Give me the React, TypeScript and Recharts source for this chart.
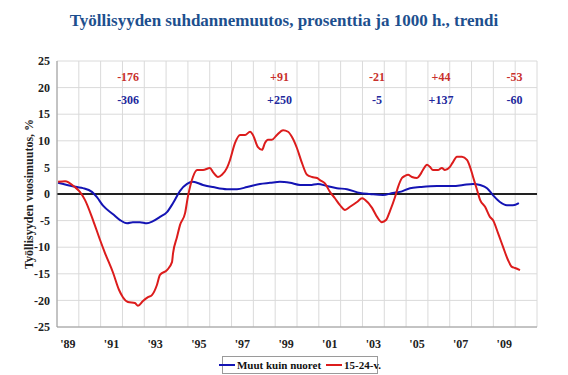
import React from "react";
import {
  LineChart,
  Line,
  XAxis,
  YAxis,
  CartesianGrid,
  ReferenceLine,
  ReferenceDot,
} from "recharts";

// decimal years
const youthYears = [
  1989.05, 1989.37, 1989.82, 1990.05, 1990.28, 1990.65, 1990.97, 1991.2, 1991.57, 1991.84,
  1992.02, 1992.25, 1992.57, 1992.71, 1992.94, 1993.17, 1993.35, 1993.58, 1993.72, 1994.04,
  1994.27, 1994.32, 1994.5, 1994.64, 1994.87, 1995.0, 1995.23, 1995.42, 1995.69, 1996.01,
  1996.15, 1996.38, 1996.56, 1996.79, 1996.93, 1997.16, 1997.39, 1997.62, 1997.85, 1997.98,
  1998.21, 1998.4, 1998.53, 1998.67, 1998.85, 1999.08, 1999.36, 1999.59, 1999.77, 2000.0,
  2000.23, 2000.46, 2000.69, 2000.92, 2001.05, 2001.28, 2001.51, 2001.74, 2001.97, 2002.2,
  2002.43, 2002.75, 2002.98, 2003.12, 2003.44, 2003.67, 2003.89, 2004.08, 2004.26, 2004.49,
  2004.63, 2004.81, 2004.95, 2005.09, 2005.27, 2005.5, 2005.64, 2005.77, 2005.96, 2006.09,
  2006.23, 2006.46, 2006.64, 2006.78, 2007.01, 2007.15, 2007.33, 2007.56, 2007.79, 2007.93,
  2008.07, 2008.25, 2008.39, 2008.62, 2008.84, 2008.98, 2009.21, 2009.44, 2009.67, 2009.85,
  2009.99, 2010.22,
];
const youthValues = [
  2.3, 2.4, 1.3, 0.4, -1.1, -4.9, -8.6, -11.1, -14.8, -18.0,
  -19.4, -20.3, -20.5, -21.0, -20.1, -19.4, -19.0, -17.1, -15.2, -14.3,
  -12.8, -11.1, -8.1, -5.8, -3.6, -0.5, 3.2, 4.5, 4.5, 4.9,
  4.1, 3.2, 3.6, 4.9, 6.4, 9.6, 11.1, 11.1, 11.7, 11.1,
  8.8, 8.3, 9.6, 10.2, 10.2, 11.1, 12.0, 11.7, 10.7, 8.6,
  5.8, 3.6, 3.2, 3.0, 2.6, 2.0, 0.4, -0.8, -2.1, -3.0,
  -2.4, -1.5, -0.8, -1.1, -2.6, -4.3, -5.3, -4.9, -3.2, -0.6,
  1.3, 3.0, 3.4, 3.6, 3.2, 3.0, 3.6, 4.5, 5.5, 5.1,
  4.5, 4.5, 4.9, 4.5, 5.1, 6.0, 7.0, 7.0, 6.4, 5.1,
  3.2, 0.8, -1.1, -2.4, -4.3, -4.9, -7.3, -9.9, -12.4, -13.7,
  -13.9, -14.3,
];

const otherYears = [
  1989.05, 1989.46, 1989.92, 1990.19, 1990.6, 1990.83, 1991.11, 1991.57, 1991.89, 1992.21,
  1992.48, 1992.8, 1993.12, 1993.4, 1993.72, 1994.04, 1994.32, 1994.64, 1994.96, 1995.23,
  1995.69, 1996.15, 1996.79, 1997.25, 1997.71, 1998.3, 1998.76, 1999.22, 1999.68, 2000.14,
  2000.59, 2000.96, 2001.37, 2001.83, 2002.29, 2002.89, 2003.34, 2003.94, 2004.4, 2004.72,
  2005.18, 2005.64, 2006.42, 2007.15, 2007.61, 2008.07, 2008.39, 2008.71, 2008.98, 2009.3,
  2009.62, 2009.9, 2010.17,
];
const otherValues = [
  2.1, 1.7, 1.3, 1.1, 0.4, -0.6, -2.2, -3.8, -4.9, -5.5,
  -5.3, -5.3, -5.5, -5.1, -4.3, -3.4, -1.7, 0.6, 1.9, 2.3,
  1.7, 1.3, 0.9, 0.9, 1.3, 1.9, 2.1, 2.3, 2.1, 1.7,
  1.7, 1.9, 1.5, 1.1, 0.9, 0.2, 0.0, -0.2, 0.2, 0.4,
  1.1, 1.3, 1.5, 1.5, 1.7, 1.9, 1.7, 1.1, -0.2, -1.5,
  -2.1, -2.1, -1.7,
];

const youthData = youthYears.map((t, i) => ({ t, v: youthValues[i] }));
const otherData = otherYears.map((t, i) => ({ t, v: otherValues[i] }));

const yTicks = [-25, -20, -15, -10, -5, 0, 5, 10, 15, 20, 25];
const gridYears = Array.from({ length: 23 }, (_, i) => 1989 + i);
const labelYears = [1989.5, 1991.5, 1993.5, 1995.5, 1997.5, 1999.5, 2001.5, 2003.5, 2005.5, 2007.5, 2009.5];

// change in thousands per period, top row = youth, second row = others
const noteYears = [1992.26, 1999.2, 2003.67, 2006.6, 2009.97];
const youthNotes = ["-176", "+91", "-21", "+44", "-53"];
const otherNotes = ["-306", "+250", "-5", "+137", "-60"];

const RED = "#dc1c1c";
const BLUE = "#1414b4";
const serif = "'Liberation Serif', 'Times New Roman', serif";

const fmtYear = (v: number) => "'" + String(Math.floor(v)).slice(2);

export default function App() {
  return (
    <div style={{ position: "absolute", left: 0, top: 0, width: 568, height: 375, background: "#fff", fontFamily: serif }}>
      <div
        style={{
          position: "absolute",
          top: 11,
          width: 568,
          textAlign: "center",
          fontSize: 17,
          fontWeight: "bold",
          color: "#1d4f8e",
        }}
      >
        Työllisyyden suhdannemuutos, prosenttia ja 1000 h., trendi
      </div>
      <LineChart width={568} height={375} data={youthData} margin={{ top: 61, right: 31, bottom: 18, left: 20 }}>
        {/* hidden axis only drives the yearly vertical grid */}
        <CartesianGrid stroke="#dadada" xAxisId="grid" />
        <XAxis xAxisId="grid" dataKey="t" type="number" domain={[1989, 2011]} ticks={gridYears} interval={0} hide />
        <XAxis
          dataKey="t"
          type="number"
          domain={[1989, 2011]}
          ticks={labelYears}
          tickFormatter={fmtYear}
          interval={0}
          height={30}
          stroke="#9a9a9a"
          tickLine={false}
          tickSize={0}
          tickMargin={12}
          tick={{ fill: "#222", fontSize: 12, fontWeight: "bold", fontFamily: serif }}
        />
        <YAxis
          type="number"
          domain={[-25, 25]}
          ticks={yTicks}
          interval={0}
          width={37}
          stroke="#9a9a9a"
          tickLine={false}
          tickSize={0}
          tickMargin={7}
          tick={{ fill: "#222", fontSize: 12, fontWeight: "bold", fontFamily: serif }}
          label={{
            value: "Työllisyyden vuosimuutos, %",
            angle: -90,
            position: "insideLeft",
            offset: 9,
            style: { textAnchor: "middle", fill: "#222", fontSize: 12, fontWeight: "bold", fontFamily: serif },
          }}
        />
        <ReferenceLine y={0} stroke="#222" strokeWidth={2} />
        {noteYears.map((x, i) => (
          <ReferenceDot
            key={"y" + i}
            x={x}
            y={22}
            r={0}
            stroke="none"
            label={{ value: youthNotes[i], position: "center", fill: "#c8302c", fontSize: 12, fontWeight: "bold", fontFamily: serif }}
          />
        ))}
        {noteYears.map((x, i) => (
          <ReferenceDot
            key={"o" + i}
            x={x}
            y={17.7}
            r={0}
            stroke="none"
            label={{ value: otherNotes[i], position: "center", fill: "#22289c", fontSize: 12, fontWeight: "bold", fontFamily: serif }}
          />
        ))}
        <Line data={otherData} dataKey="v" type="monotone" stroke={BLUE} strokeWidth={2} dot={false} isAnimationActive={false} />
        <Line data={youthData} dataKey="v" type="monotone" stroke={RED} strokeWidth={2} dot={false} isAnimationActive={false} />
      </LineChart>
      <div
        style={{
          position: "absolute",
          left: 222,
          top: 356,
          width: 156,
          height: 18,
          border: "1px solid #9a9a9a",
          boxSizing: "border-box",
          display: "flex",
          alignItems: "center",
          justifyContent: "center",
          fontSize: 11,
          fontWeight: "bold",
          color: "#111",
          whiteSpace: "nowrap",
        }}
      >
        <span style={{ flexShrink: 0, display: "inline-block", width: 16, height: 2, background: BLUE, marginRight: 2 }} />
        <span style={{ flexShrink: 0 }}>Muut kuin nuoret</span>
        <span style={{ flexShrink: 0, display: "inline-block", width: 16, height: 2, background: RED, margin: "0 2px 0 5px" }} />
        <span style={{ flexShrink: 0 }}>15-24-v.</span>
      </div>
    </div>
  );
}
